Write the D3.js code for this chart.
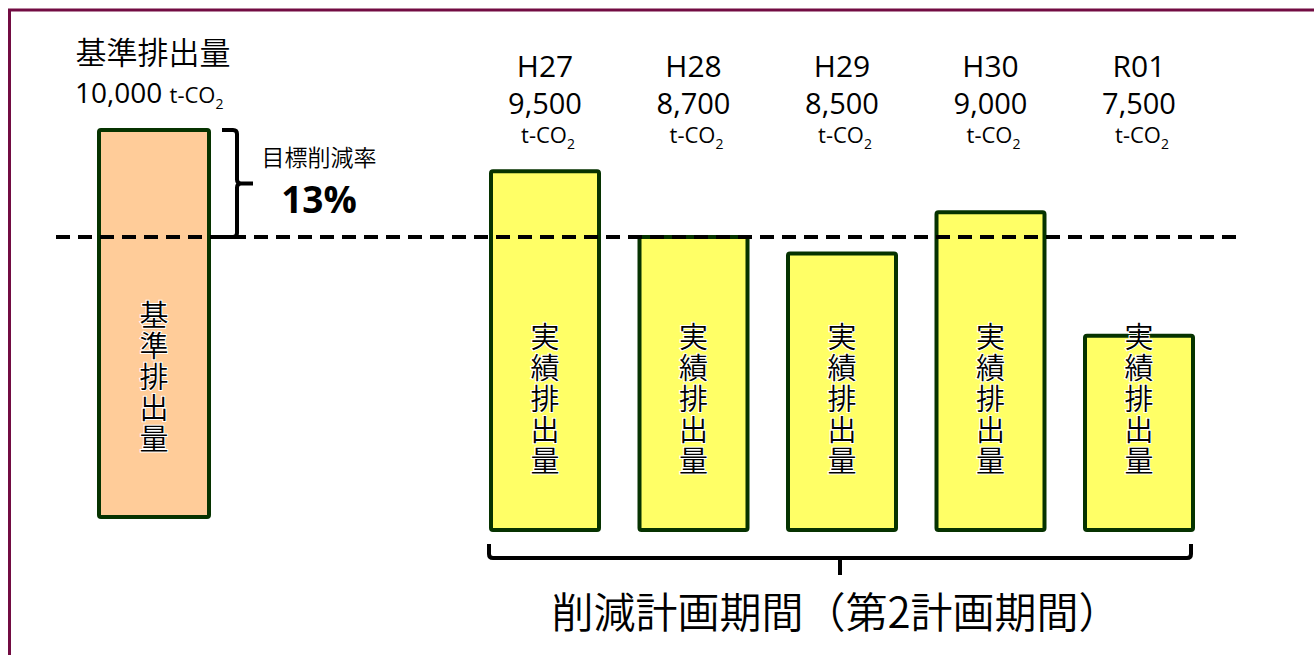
<!DOCTYPE html>
<html lang="ja">
<head>
<meta charset="UTF-8">
<script src="https://cdn.jsdelivr.net/npm/d3@7"></script>
<style>
  body { margin: 0; background: #fff; }
  svg { display: block; }
  text { font-family: "Open Sans", "Noto Sans CJK JP", sans-serif; font-weight: 400; fill: #000; }
  text.jp { font-family: "Noto Sans CJK JP", sans-serif; font-weight: 350; }
</style>
</head>
<body>
<svg></svg>
<script>
// data
var baseLabel = "基準排出量";
var baseValue = 10000;
var years = ["H27", "H28", "H29", "H30", "R01"];
var actualValues = [9500, 8700, 8500, 9000, 7500];
var targetRate = 13;
var barLabel = "実績排出量";
var periodLabel = "削減計画期間（第2計画期間）";
var unit = "t-CO";

var W = 1314, H = 655;
var svg = d3.select("svg").attr("width", W).attr("height", H);

// frame
svg.append("rect")
  .attr("x", 9.5).attr("y", 10)
  .attr("width", W).attr("height", H)
  .attr("fill", "none")
  .attr("stroke", "#720c42").attr("stroke-width", 3);

var fmt = d3.format(",");
var target = baseValue * (100 - targetRate) / 100;

// top of each bar from its value (schematic scale)
var y = d3.scaleLinear().domain([target, baseValue]).range([237, 130]);
var x = d3.scalePoint().domain(years).range([545, 1139]);

var baseX = 154, baseW = 110, barW = 108;
var baseBottom = 517, barBottom = 530;

// base bar
svg.append("rect")
  .attr("x", baseX - baseW / 2).attr("y", y(baseValue))
  .attr("width", baseW).attr("height", baseBottom - y(baseValue))
  .attr("rx", 2)
  .attr("fill", "#ffcc99").attr("stroke", "#063300").attr("stroke-width", 4);

// actual bars
var bars = svg.selectAll("g.bar")
  .data(years.map(function(d, i) { return {year: d, value: actualValues[i]}; }))
  .enter().append("g").attr("class", "bar");

bars.append("rect")
  .attr("x", function(d) { return x(d.year) - barW / 2; })
  .attr("y", function(d) { return y(d.value); })
  .attr("width", barW)
  .attr("height", function(d) { return barBottom - y(d.value); })
  .attr("rx", 2)
  .attr("fill", "#ffff66").attr("stroke", "#063300").attr("stroke-width", 4);

// vertical labels inside bars, one char per line
function vertical(cx, cy, str) {
  var chars = str.split("");
  var pitch = 31;
  svg.append("g").selectAll("text").data(chars).enter().append("text")
    .attr("class", "jp")
    .attr("x", cx)
    .attr("y", function(c, i) { return cy + (i - (chars.length - 1) / 2) * pitch + 10; })
    .attr("text-anchor", "middle")
    .attr("font-size", 29)
    .attr("stroke", "#fff").attr("stroke-width", 2).attr("paint-order", "stroke")
    .text(function(c) { return c; });
}
vertical(baseX, 378, baseLabel);
bars.each(function(d) { vertical(x(d.year), 400, barLabel); });

// header labels
svg.append("text").attr("class", "jp").attr("x", baseX - 1).attr("y", 64)
  .attr("text-anchor", "middle").attr("font-size", 31).text(baseLabel);
var bv = svg.append("text").attr("x", 75).attr("y", 103).attr("font-size", 28);
bv.append("tspan").text(fmt(baseValue) + " ");
bv.append("tspan").attr("font-size", 22).text(unit);
bv.append("tspan").attr("font-size", 14).attr("dy", 6).text("2");

bars.append("text").attr("x", function(d) { return x(d.year); }).attr("y", 77)
  .attr("text-anchor", "middle").attr("font-size", 30)
  .text(function(d) { return d.year; });
bars.append("text").attr("x", function(d) { return x(d.year); }).attr("y", 114)
  .attr("text-anchor", "middle").attr("font-size", 29)
  .text(function(d) { return fmt(d.value); });
var u = bars.append("text").attr("x", function(d) { return x(d.year) + 3; }).attr("y", 143)
  .attr("text-anchor", "middle").attr("font-size", 22);
u.append("tspan").text(unit);
u.append("tspan").attr("font-size", 14).attr("dy", 6).text("2");

// target dashed line
svg.append("line")
  .attr("x1", 56).attr("x2", 1236)
  .attr("y1", y(target)).attr("y2", y(target))
  .attr("stroke", "#000").attr("stroke-width", 4)
  .attr("stroke-dasharray", "14 8");

// brace for reduction rate
var bt = y(baseValue), bb = y(target), bm = (bt + bb) / 2;
svg.append("path")
  .attr("d", "M222," + bt + " L233," + bt + " Q237," + bt + " 237," + (bt + 4) +
    " L237," + (bm - 4) + " Q237," + bm + " 241," + bm + " L253," + bm +
    " M241," + bm + " Q237," + bm + " 237," + (bm + 4) +
    " L237," + (bb - 4) + " Q237," + bb + " 233," + bb + " L222," + bb)
  .attr("fill", "none").attr("stroke", "#000").attr("stroke-width", 4);

svg.append("text").attr("class", "jp").attr("x", 319).attr("y", 166)
  .attr("text-anchor", "middle").attr("font-size", 23).text("目標削減率");
svg.append("text").attr("x", 319).attr("y", 213)
  .attr("text-anchor", "middle").attr("font-size", 37).style("font-weight", "bold")
  .text(targetRate + "%");

// period brace
var pl = x(years[0]) - barW / 2 - 2, pr = x(years[years.length - 1]) + barW / 2 - 2;
var pm = (pl + pr) / 2, py = 558;
svg.append("path")
  .attr("d", "M" + pl + ",544 L" + pl + "," + (py - 4) + " Q" + pl + "," + py + " " + (pl + 4) + "," + py +
    " L" + (pr - 4) + "," + py + " Q" + pr + "," + py + " " + pr + "," + (py - 4) + " L" + pr + ",544" +
    " M" + pm + "," + py + " L" + pm + ",575")
  .attr("fill", "none").attr("stroke", "#000").attr("stroke-width", 4);

svg.append("text").attr("class", "jp").attr("x", 836).attr("y", 628)
  .attr("text-anchor", "middle").attr("font-size", 42).text(periodLabel);
</script>
</body>
</html>
